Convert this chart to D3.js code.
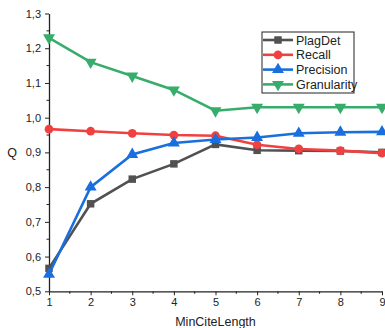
<!DOCTYPE html>
<html>
<head>
<meta charset="utf-8">
<script src="https://cdn.jsdelivr.net/npm/d3@7"></script>
<style>
  body { margin: 0; background: #fff; }
  text { font-family: "Liberation Sans", Arial, sans-serif; fill: #222; }
</style>
</head>
<body>
<div id="chart"></div>
<script>
const minCiteLength = [1, 2, 3, 4, 5, 6, 7, 8, 9];
const plagDet = [0.566, 0.752, 0.823, 0.867, 0.923, 0.906, 0.905, 0.904, 0.900];
const recall = [0.967, 0.961, 0.955, 0.950, 0.948, 0.922, 0.910, 0.905, 0.898];
const precision = [0.549, 0.800, 0.894, 0.927, 0.937, 0.943, 0.955, 0.958, 0.959];
const granularity = [1.230, 1.160, 1.120, 1.080, 1.020, 1.030, 1.030, 1.030, 1.030];
const yTicks = [0.5, 0.6, 0.7, 0.8, 0.9, 1.0, 1.1, 1.2, 1.3];

const series = [
  { name: 'PlagDet', values: plagDet, color: '#515151', symbol: d3.symbolSquare, rot: 0 },
  { name: 'Recall', values: recall, color: '#F14040', symbol: d3.symbolCircle, rot: 0 },
  { name: 'Precision', values: precision, color: '#1A6FDF', symbol: d3.symbolTriangle, rot: 0 },
  { name: 'Granularity', values: granularity, color: '#37AD6B', symbol: d3.symbolTriangle, rot: 180 }
];

const width = 385, height = 328;
const margin = { left: 49, right: 3, top: 13.5, bottom: 36.7 };

const svg = d3.select('#chart').append('svg')
  .attr('width', width)
  .attr('height', height);

const x = d3.scaleLinear().domain([1, 9]).range([margin.left, width - margin.right]);
const y = d3.scaleLinear().domain([0.5, 1.3]).range([height - margin.bottom, margin.top]);

const fmt = d => d3.format('.1f')(d).replace('.', ',');

// minor ticks
const xMinor = d3.range(1.5, 9, 1);
const yMinor = d3.range(0.55, 1.3, 0.1);

const xAxis = svg.append('g')
  .attr('transform', 'translate(0,' + y(0.5) + ')')
  .call(d3.axisBottom(x).tickValues(minCiteLength).tickSize(4).tickSizeOuter(0).tickPadding(3));
xAxis.selectAll('.minor').data(xMinor).enter().append('line')
  .attr('x1', d => x(d)).attr('x2', d => x(d))
  .attr('y1', 0).attr('y2', 2.5).attr('stroke', '#222');

const yAxis = svg.append('g')
  .attr('transform', 'translate(' + x(1) + ',0)')
  .call(d3.axisLeft(y).tickValues(yTicks).tickFormat(fmt).tickSize(4).tickSizeOuter(0).tickPadding(4));
yAxis.selectAll('.minor').data(yMinor).enter().append('line')
  .attr('x1', 0).attr('x2', -2.5)
  .attr('y1', d => y(d)).attr('y2', d => y(d)).attr('stroke', '#222');

[xAxis, yAxis].forEach(g => {
  g.select('.domain').attr('stroke', '#222').attr('stroke-width', 1.3);
  g.selectAll('.tick line').attr('stroke', '#222');
  g.selectAll('text').style('font-size', '11px').style('font-family', '"Liberation Sans", Arial, sans-serif').attr('fill', '#222');
});

svg.append('text')
  .attr('x', (x(1) + x(9)) / 2).attr('y', 326)
  .attr('text-anchor', 'middle')
  .style('font-size', '12.5px')
  .text('MinCiteLength');

svg.append('text')
  .attr('x', 12).attr('y', y(0.9) + 5)
  .attr('text-anchor', 'middle')
  .style('font-size', '12.5px')
  .text('Q');

const line = d3.line()
  .x((d, i) => x(minCiteLength[i]))
  .y(d => y(d));

const symbolPath = (s) => d3.symbol().type(s.symbol).size(s.symbol === d3.symbolCircle ? 60 : s.symbol === d3.symbolSquare ? 56 : 62)();

series.forEach(s => {
  const g = svg.append('g');
  g.append('path')
    .datum(s.values)
    .attr('d', line)
    .attr('fill', 'none')
    .attr('stroke', s.color)
    .attr('stroke-width', 2.6);
  g.selectAll('path.pt')
    .data(s.values)
    .enter().append('path')
    .attr('class', 'pt')
    .attr('d', symbolPath(s))
    .attr('transform', (d, i) => 'translate(' + x(minCiteLength[i]) + ',' + y(d) + ') rotate(' + s.rot + ')')
    .attr('fill', s.color);
});

// legend
const legend = svg.append('g').attr('transform', 'translate(262,32)');
legend.append('rect')
  .attr('width', 92).attr('height', 61)
  .attr('fill', '#fff').attr('stroke', '#222').attr('stroke-width', 1);
series.forEach((s, i) => {
  const ly = 8 + i * 14.8;
  legend.append('line')
    .attr('x1', 1).attr('x2', 31).attr('y1', ly).attr('y2', ly)
    .attr('stroke', s.color).attr('stroke-width', 2.6);
  legend.append('path')
    .attr('d', symbolPath(s))
    .attr('transform', 'translate(16,' + ly + ') rotate(' + s.rot + ')')
    .attr('fill', s.color);
  legend.append('text')
    .attr('x', 34).attr('y', ly + 4.5)
    .style('font-size', '12.5px')
    .text(s.name);
});
</script>
</body>
</html>
